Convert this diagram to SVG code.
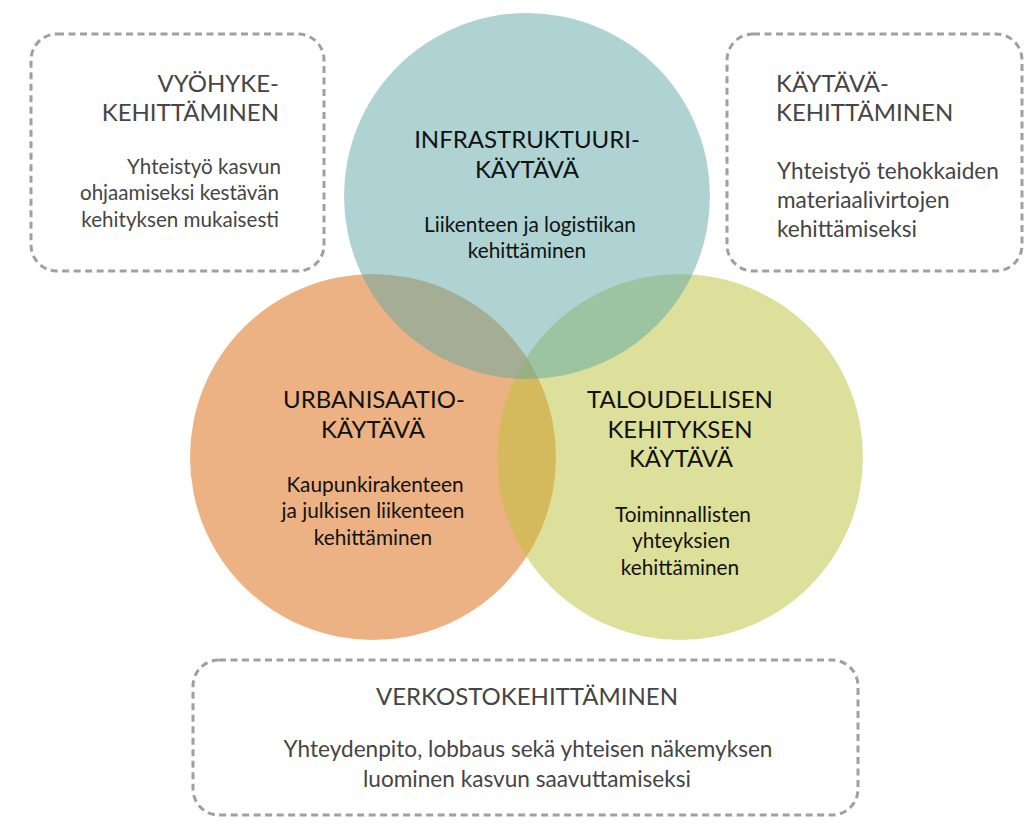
<svg xmlns="http://www.w3.org/2000/svg" width="1030" height="839" viewBox="0 0 1030 839">
<style>
.box{fill:none;stroke:#a0a0a2;stroke-width:3;stroke-dasharray:7 4.5}
.t{font-family:Lato,"Liberation Sans",sans-serif;}
.bt{font-size:24px;fill:#454545}
.bb{font-size:20.6px;fill:#454545}
.bl{font-size:22.6px;fill:#454545}
.ct{font-size:24px;fill:#111}
.cb{font-size:20.8px;fill:#111}
</style>
<rect width="1030" height="839" fill="#fff"/>
<g id="circles">
<g id="urbanisaatio"><circle cx="373" cy="457" r="183" fill="#edb283"/></g>
<g id="taloudellisen"><circle cx="680" cy="457" r="183" fill="#bbc135" fill-opacity="0.5"/></g>
<g id="infrastruktuuri"><circle cx="527" cy="196" r="183" fill="#5da7a5" fill-opacity="0.5"/></g>
</g>
<g id="connectors"></g>
<g id="vyohyke">
<rect class="box" x="31" y="34" width="293" height="237" rx="26"/>
<text class="t bt" text-anchor="end"><tspan x="279" y="92">VYÖHYKE-</tspan><tspan x="279" y="121">KEHITTÄMINEN</tspan></text>
<text class="t bb" text-anchor="end"><tspan x="281" y="174">Yhteistyö kasvun</tspan><tspan x="279" y="200">ohjaamiseksi kestävän</tspan><tspan x="279" y="227">kehityksen mukaisesti</tspan></text>
</g>
<g id="kaytava">
<rect class="box" x="727" y="34" width="295" height="237" rx="26"/>
<text class="t bt"><tspan x="776" y="92">KÄYTÄVÄ-</tspan><tspan x="776" y="121">KEHITTÄMINEN</tspan></text>
<text class="t bl"><tspan x="777" y="179">Yhteistyö tehokkaiden</tspan><tspan x="777" y="208">materiaalivirtojen</tspan><tspan x="777" y="237">kehittämiseksi</tspan></text>
</g>
<g id="verkosto">
<rect class="box" x="193" y="660" width="665" height="155" rx="26"/>
<text class="t bt" text-anchor="middle" x="527" y="705">VERKOSTOKEHITTÄMINEN</text>
<text class="t bl" text-anchor="middle"><tspan x="528" y="757">Yhteydenpito, lobbaus sekä yhteisen näkemyksen</tspan><tspan x="527" y="787">luominen kasvun saavuttamiseksi</tspan></text>
</g>
<g id="labels-infra">
<text class="t ct" text-anchor="middle"><tspan x="527" y="148">INFRASTRUKTUURI-</tspan><tspan x="527" y="178">KÄYTÄVÄ</tspan></text>
<text class="t cb" text-anchor="middle"><tspan x="530" y="232">Liikenteen ja logistiikan</tspan><tspan x="527" y="258">kehittäminen</tspan></text>
</g>
<g id="labels-urban">
<text class="t ct" text-anchor="middle"><tspan x="374" y="408">URBANISAATIO-</tspan><tspan x="373" y="438">KÄYTÄVÄ</tspan></text>
<text class="t cb" text-anchor="middle"><tspan x="375" y="492">Kaupunkirakenteen</tspan><tspan x="373" y="518">ja julkisen liikenteen</tspan><tspan x="373" y="545">kehittäminen</tspan></text>
</g>
<g id="labels-talous">
<text class="t ct" text-anchor="middle"><tspan x="680" y="408">TALOUDELLISEN</tspan><tspan x="680" y="438">KEHITYKSEN</tspan><tspan x="681" y="467">KÄYTÄVÄ</tspan></text>
<text class="t cb" text-anchor="middle"><tspan x="683" y="522">Toiminnallisten</tspan><tspan x="681" y="548">yhteyksien</tspan><tspan x="680" y="575">kehittäminen</tspan></text>
</g>
</svg>
